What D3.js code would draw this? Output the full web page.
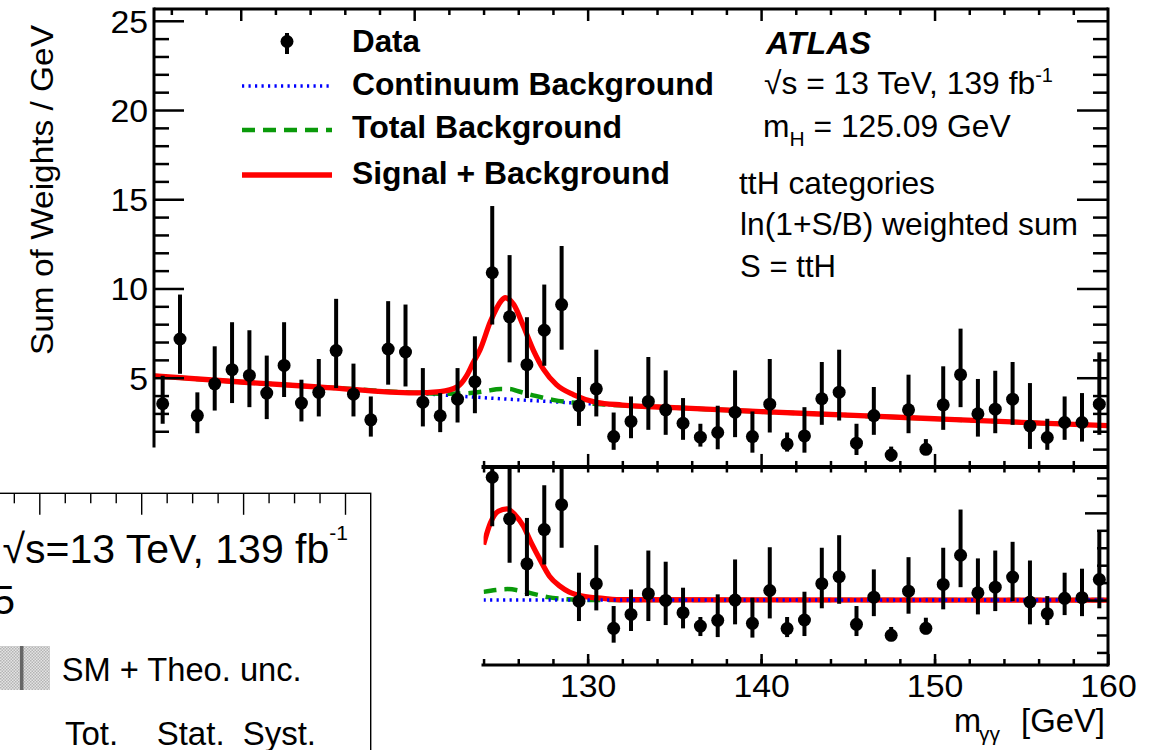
<!DOCTYPE html>
<html><head><meta charset="utf-8">
<script src="https://cdnjs.cloudflare.com/ajax/libs/d3/7.8.5/d3.min.js"></script>
<style>
html,body{margin:0;padding:0;background:#fff;}
svg{display:block;}
text{font-family:"Liberation Sans",Arial,Helvetica,sans-serif;fill:#000;}
</style></head>
<body>
<svg id="chart" width="1165" height="750"></svg>
<script>
// ---------------- data ----------------
const massBins = [105.5,106.5,107.5,108.5,109.5,110.5,111.5,112.5,113.5,114.5,115.5,116.5,117.5,118.5,119.5,120.5,121.5,122.5,123.5,124.5,125.5,126.5,127.5,128.5,129.5,130.5,131.5,132.5,133.5,134.5,135.5,136.5,137.5,138.5,139.5,140.5,141.5,142.5,143.5,144.5,145.5,146.5,147.5,148.5,149.5,150.5,151.5,152.5,153.5,154.5,155.5,156.5,157.5,158.5,159.5];
const sumWeights = [3.54,7.17,2.88,4.66,5.45,5.13,4.14,5.69,3.58,4.18,6.52,4.08,2.64,6.61,6.44,3.63,2.87,3.80,4.78,10.88,8.41,5.73,7.66,9.10,3.43,4.38,1.70,2.55,3.67,3.20,2.45,1.67,1.93,3.07,1.70,3.52,1.29,1.74,3.82,4.19,1.33,2.88,0.67,3.20,0.99,3.48,5.17,2.98,3.24,3.80,2.30,1.65,2.49,2.49,3.52];
const errLow  = [2.42,5.22,1.89,3.16,3.58,3.35,2.68,3.92,2.55,2.83,4.42,2.83,1.70,4.61,4.51,2.27,1.95,2.49,3.01,7.98,5.86,3.86,5.67,6.57,2.30,2.83,0.96,1.61,2.08,1.80,1.52,1.14,0.99,1.67,0.80,1.93,0.86,0.80,2.36,2.60,0.67,1.80,0.30,1.89,0.67,2.08,3.35,1.70,1.89,2.36,1.01,0.96,1.52,1.42,1.80];
const errHigh = [5.11,9.66,4.18,6.76,8.11,7.66,6.24,8.11,4.89,6.05,9.42,5.79,3.95,9.29,9.10,5.54,4.14,5.54,7.32,14.62,11.87,8.39,10.22,12.38,5.04,6.57,3.05,3.95,6.16,5.41,3.86,2.42,3.43,5.41,3.11,6.05,1.93,3.35,5.88,6.57,2.42,4.48,1.14,5.17,1.56,5.64,7.75,4.93,5.39,5.88,4.70,2.70,3.95,4.14,6.42];

const ratioBins = [124.5,125.5,126.5,127.5,128.5,129.5,130.5,131.5,132.5,133.5,134.5,135.5,136.5,137.5,138.5,139.5,140.5,141.5,142.5,143.5,144.5,145.5,146.5,147.5,148.5,149.5,150.5,151.5,152.5,153.5,154.5,155.5,156.5,157.5,158.5,159.5];
const residual  = [7.04,4.66,2.08,4.04,5.47,-0.06,0.94,-1.62,-0.82,0.37,-0.02,-0.72,-1.49,-1.16,0.00,-1.33,0.55,-1.63,-1.14,0.94,1.34,-1.39,0.17,-2.02,0.51,-1.62,0.90,2.57,0.42,0.74,1.32,-0.11,-0.78,0.10,0.14,1.18];
const residLow  = [4.23,2.14,0.23,2.04,3.00,-1.20,-0.59,-2.44,-1.77,-1.20,-1.43,-1.62,-2.06,-2.12,-1.39,-2.15,-1.05,-2.12,-2.06,-0.47,-0.21,-2.06,-0.92,-2.35,-0.78,-1.96,-0.53,0.74,-0.82,-0.63,-0.06,-1.39,-1.43,-0.86,-0.92,-0.47];
const residHigh = [10.8,8.0,4.71,6.58,8.8,1.57,3.15,-0.34,0.61,2.84,2.20,0.71,-0.97,0.33,2.33,0.14,3.03,-0.97,0.48,3.00,3.72,-0.34,1.76,-1.54,2.46,-1.01,3.00,5.19,2.39,2.84,3.34,2.27,0.23,1.57,1.80,3.99];

const contMass = [105,110,115,120,125,130,135,140,145,150,155,160];
const contVal  = [5.10,4.76,4.45,4.14,3.82,3.55,3.32,3.10,2.90,2.70,2.50,2.31];
const totMass = [105,110,115,120,121,122,123,124,125,125.5,126,127,128,129,130,131,135,140,145,150,155,160];
const totVal  = [5.10,4.76,4.45,4.16,4.12,4.10,4.12,4.23,4.37,4.37,4.24,3.98,3.76,3.62,3.56,3.50,3.32,3.10,2.90,2.70,2.50,2.31];
const sbMass = [105,110,115,120,121.5,122.5,123.0,123.4,123.8,124.4,125.0,125.25,125.74,126.3,126.9,127.47,128.2,129.2,130.5,132,135,140,145,150,155,160];
const sbVal  = [5.10,4.76,4.45,4.15,4.22,4.50,5.07,5.84,6.57,8.16,9.29,9.48,9.10,7.88,6.48,5.45,4.61,4.04,3.62,3.47,3.32,3.10,2.90,2.70,2.50,2.31];

const resSbMass = [124.0,124.4,124.85,125.35,125.8,126.3,126.75,127.25,127.8,128.4,128.95,129.7,130.9,132,160];
const resSbVal  = [3.18,4.43,5.09,5.23,4.90,4.23,3.28,2.33,1.37,0.80,0.46,0.23,0.10,0.02,0];
const resTotMass = [124.0,124.7,125.4,126.2,127.0,127.7,128.7,130.0,131.0,160];
const resTotVal  = [0.47,0.58,0.63,0.52,0.33,0.17,0.06,0.01,0,0];
const resContMass = [124,160];
const resContVal  = [0,0];

const yMajor = [5,10,15,20,25];
const yMinor = [1,2,3,4,6,7,8,9,11,12,13,14,16,17,18,19,21,22,23,24];
const xMajor = [110,120,130,140,150];
const xMinor = [106,108,112,114,116,118,122,124,126,128,132,134,136,138,142,144,146,148,152,154,156,158];
const xLabels = [130,140,150,160];
const rMajor = [0,5];
const rMinor = [-3,-2,-1,1,2,3,4,6,7];
const boxTicksMajor = [0,1,2,3];
const boxTicksMinor = [-0.75,-0.5,-0.25,0.25,0.5,0.75,1.25,1.5,1.75,2.25,2.5,2.75];

const legendLabels = ["Data","Continuum Background","Total Background","Signal + Background"];

// ---------------- drawing ----------------
const svg = d3.select("#chart");
const x = d3.scaleLinear().domain([105,160]).range([154,1108]);
const yUp = d3.scaleLinear().domain([0,25.66]).range([466.95,9]);
const yLo = d3.scaleLinear().domain([-3.72,7.6]).range([665,467.5]);

const defs = svg.append("defs");
defs.append("clipPath").attr("id","clipUp").append("rect")
  .attr("x",x(105)).attr("y",yUp(25.66)).attr("width",x(160)-x(105)).attr("height",yUp(0)-yUp(25.66));
defs.append("clipPath").attr("id","clipLo").append("rect")
  .attr("x",x(124)).attr("y",yLo(7.6)).attr("width",x(160)-x(124)).attr("height",yLo(-3.72)-yLo(7.6));
const pat = defs.append("pattern").attr("id","hatch").attr("patternUnits","userSpaceOnUse").attr("width",3).attr("height",3);
pat.append("rect").attr("width",3).attr("height",3).attr("fill","#e4e4e4");
pat.append("rect").attr("x",0).attr("y",0).attr("width",1.5).attr("height",1.5).attr("fill","#b4b4b4");
pat.append("rect").attr("x",1.5).attr("y",1.5).attr("width",1.5).attr("height",1.5).attr("fill","#b4b4b4");

const BLUE="#0000ff", GREEN="#0a9a0a", RED="#ff0000";
const MR = 6.5, EBW = 4;

function styleAxis(g, w){
  g.select(".domain").remove();
  g.selectAll(".tick line").attr("stroke","#000").attr("stroke-width",w);
}

// ---- upper panel curves ----
const upLine = d3.line().x(d=>x(d[0])).y(d=>yUp(d[1])).curve(d3.curveMonotoneX);
const up = svg.append("g").attr("clip-path","url(#clipUp)");
up.append("path").attr("d",upLine(contMass.map((m,i)=>[m,contVal[i]])))
  .attr("fill","none").attr("stroke",BLUE).attr("stroke-width",3.5).attr("stroke-dasharray","2.2,4.3");
up.append("path").attr("d",upLine(totMass.map((m,i)=>[m,totVal[i]])))
  .attr("fill","none").attr("stroke",GREEN).attr("stroke-width",4.5).attr("stroke-dasharray","13,8");
up.append("path").attr("d",upLine(sbMass.map((m,i)=>[m,sbVal[i]])))
  .attr("fill","none").attr("stroke",RED).attr("stroke-width",5.3);
// data
up.selectAll("line.eb").data(massBins).join("line").attr("class","eb")
  .attr("x1",d=>x(d)).attr("x2",d=>x(d))
  .attr("y1",(d,i)=>yUp(errLow[i])).attr("y2",(d,i)=>yUp(errHigh[i]))
  .attr("stroke","#000").attr("stroke-width",EBW);
up.selectAll("circle.pt").data(massBins).join("circle").attr("class","pt")
  .attr("cx",d=>x(d)).attr("cy",(d,i)=>yUp(sumWeights[i])).attr("r",MR).attr("fill","#000");

// ---- lower panel ----
const loLine = d3.line().x(d=>x(d[0])).y(d=>yLo(d[1])).curve(d3.curveMonotoneX);
const lo = svg.append("g").attr("clip-path","url(#clipLo)");
lo.append("path").attr("d",loLine(resTotMass.map((m,i)=>[m,resTotVal[i]])))
  .attr("fill","none").attr("stroke",GREEN).attr("stroke-width",4.5).attr("stroke-dasharray","13,8");
lo.append("path").attr("d",loLine(resSbMass.map((m,i)=>[m,resSbVal[i]])))
  .attr("fill","none").attr("stroke",RED).attr("stroke-width",5.3);
lo.append("path").attr("d",loLine(resContMass.map((m,i)=>[m,resContVal[i]])))
  .attr("fill","none").attr("stroke",BLUE).attr("stroke-width",3.5).attr("stroke-dasharray","2.2,4.3");
lo.selectAll("line.eb").data(ratioBins).join("line").attr("class","eb")
  .attr("x1",d=>x(d)).attr("x2",d=>x(d))
  .attr("y1",(d,i)=>yLo(residLow[i])).attr("y2",(d,i)=>yLo(residHigh[i]))
  .attr("stroke","#000").attr("stroke-width",EBW);
lo.selectAll("circle.pt").data(ratioBins).join("circle").attr("class","pt")
  .attr("cx",d=>x(d)).attr("cy",(d,i)=>yLo(residual[i])).attr("r",MR).attr("fill","#000");

// ---- axes ----
const TF = 32;
let g = svg.append("g").attr("transform",`translate(${x(105)},0)`)
  .call(d3.axisLeft(yUp).tickValues(yMajor).tickSize(-30).tickPadding(6).tickFormat(d3.format("d")));
styleAxis(g,2.5);
g.selectAll("text").attr("font-size",TF).attr("dy",11.5)
  .attr("textLength",d=>String(d).length*18.8).attr("lengthAdjust","spacingAndGlyphs");
g = svg.append("g").attr("transform",`translate(${x(105)},0)`)
  .call(d3.axisLeft(yUp).tickValues(yMinor).tickSize(-15).tickFormat(""));
styleAxis(g,2.5);
g = svg.append("g").attr("transform",`translate(${x(160)},0)`)
  .call(d3.axisRight(yUp).tickValues(yMajor).tickSize(-31).tickFormat(""));
styleAxis(g,2.5);
g = svg.append("g").attr("transform",`translate(${x(160)},0)`)
  .call(d3.axisRight(yUp).tickValues(yMinor).tickSize(-15).tickFormat(""));
styleAxis(g,2.5);
g = svg.append("g").attr("transform",`translate(0,${yUp(25.66)})`)
  .call(d3.axisTop(x).tickValues(xMajor).tickSize(-12).tickFormat(""));
styleAxis(g,2.5);
g = svg.append("g").attr("transform",`translate(0,${yUp(25.66)})`)
  .call(d3.axisTop(x).tickValues(xMinor).tickSize(-6).tickFormat(""));
styleAxis(g,2.5);
g = svg.append("g").attr("transform",`translate(0,${yUp(0)})`)
  .call(d3.axisBottom(x).tickValues(xMajor).tickSize(-13).tickFormat(""));
styleAxis(g,2.5);
g = svg.append("g").attr("transform",`translate(0,${yUp(0)})`)
  .call(d3.axisBottom(x).tickValues(xMinor).tickSize(-6).tickFormat(""));
styleAxis(g,2.5);
g = svg.append("g").attr("transform",`translate(0,${yLo(7.6)})`)
  .call(d3.axisTop(x).tickValues(xMajor.concat(xMinor)).tickSize(-5).tickFormat(""));
styleAxis(g,2.5);
g = svg.append("g").attr("transform",`translate(0,${yLo(-3.72)})`)
  .call(d3.axisBottom(x).tickValues(xLabels).tickSize(-11).tickFormat(d3.format("d")));
styleAxis(g,2.5);
g.selectAll("text").attr("font-size",TF).attr("y",32).attr("dy",0)
  .attr("textLength",d=>String(d).length*18.8).attr("lengthAdjust","spacingAndGlyphs");
g = svg.append("g").attr("transform",`translate(0,${yLo(-3.72)})`)
  .call(d3.axisBottom(x).tickValues(xMajor.concat(xMinor)).tickSize(-6).tickFormat(""));
styleAxis(g,2.5);
g = svg.append("g").attr("transform",`translate(${x(160)},0)`)
  .call(d3.axisRight(yLo).tickValues(rMajor).tickSize(-23).tickFormat(""));
styleAxis(g,2.5);
g = svg.append("g").attr("transform",`translate(${x(160)},0)`)
  .call(d3.axisRight(yLo).tickValues(rMinor).tickSize(-11).tickFormat(""));
styleAxis(g,2.5);

// frame lines
const frame = svg.append("g").attr("stroke","#000").attr("fill","none");
frame.append("line").attr("x1",x(105)).attr("x2",x(160)).attr("y1",yUp(25.66)).attr("y2",yUp(25.66)).attr("stroke-width",3);
frame.append("line").attr("x1",x(105)).attr("x2",x(105)).attr("y1",yUp(25.66)-1.5).attr("y2",yUp(0)).attr("stroke-width",3);
frame.append("line").attr("x1",x(160)).attr("x2",x(160)).attr("y1",yUp(25.66)-1.5).attr("y2",yLo(-3.72)+1.5).attr("stroke-width",3);
frame.append("line").attr("x1",x(105)).attr("x2",x(160)).attr("y1",yUp(0)).attr("y2",yUp(0)).attr("stroke-width",4);
frame.append("line").attr("x1",x(105)).attr("x2",x(160)).attr("y1",yLo(-3.72)).attr("y2",yLo(-3.72)).attr("stroke-width",3);

// axis titles
svg.append("text").attr("transform","translate(52.5,190) rotate(-90)")
  .attr("text-anchor","middle").attr("font-size",31.5)
  .attr("textLength",330).attr("lengthAdjust","spacingAndGlyphs")
  .text("Sum of Weights / GeV");
const xt = svg.append("text").attr("y",731.7).attr("font-size",32.5);
xt.append("tspan").attr("x",954).text("m");
xt.append("tspan").attr("x",979).attr("font-size",21).attr("dy",9).text("γγ");
xt.append("tspan").attr("x",1021).attr("dy",-9).attr("textLength",84).attr("lengthAdjust","spacingAndGlyphs").text("[GeV]");

// legend
const lg = svg.append("g");
lg.append("line").attr("x1",287).attr("x2",287).attr("y1",33).attr("y2",54).attr("stroke","#000").attr("stroke-width",EBW);
lg.append("circle").attr("cx",287).attr("cy",41.5).attr("r",MR).attr("fill","#000");
lg.append("line").attr("x1",242).attr("x2",332).attr("y1",86).attr("y2",86).attr("stroke",BLUE).attr("stroke-width",3.5).attr("stroke-dasharray","2.2,4.3");
lg.append("line").attr("x1",242).attr("x2",332).attr("y1",130).attr("y2",130).attr("stroke",GREEN).attr("stroke-width",4.5).attr("stroke-dasharray","13,8");
lg.append("line").attr("x1",242).attr("x2",332).attr("y1",175).attr("y2",175).attr("stroke",RED).attr("stroke-width",5.3);
const lgBase = [52,95,138,184.3];
const lgW = [68,362,270,318];
legendLabels.forEach((t,i)=>{
  lg.append("text").attr("x",352).attr("y",lgBase[i]).attr("font-size",31.8).attr("font-weight","bold")
    .attr("textLength",lgW[i]).attr("lengthAdjust","spacingAndGlyphs").text(t);
});

// ATLAS labels
svg.append("text").attr("x",766).attr("y",54).attr("font-size",30.5).attr("font-weight","bold").attr("font-style","italic")
  .attr("textLength",105).attr("lengthAdjust","spacingAndGlyphs").text("ATLAS");
let t = svg.append("text").attr("x",764).attr("y",94.3).attr("font-size",31.8);
t.append("tspan").text("√s = 13 TeV, 139 fb");
t.append("tspan").attr("font-size",20).attr("dy",-12.6).text("-1");
t = svg.append("text").attr("x",763).attr("y",136.7).attr("font-size",31.8);
t.append("tspan").text("m");
t.append("tspan").attr("font-size",21).attr("dy",9.3).text("H");
t.append("tspan").attr("dy",-9.3).text(" = 125.09 GeV");
svg.append("text").attr("x",739).attr("y",194.3).attr("font-size",31.8)
  .attr("textLength",196).attr("lengthAdjust","spacingAndGlyphs").text("ttH categories");
svg.append("text").attr("x",740).attr("y",235).attr("font-size",31.8)
  .attr("textLength",338).attr("lengthAdjust","spacingAndGlyphs").text("ln(1+S/B) weighted sum");
svg.append("text").attr("x",740).attr("y",276.7).attr("font-size",31.8)
  .attr("textLength",96).attr("lengthAdjust","spacingAndGlyphs").text("S = ttH");

// ---- overlapping region at the bottom left ----
svg.append("rect").attr("x",0).attr("y",447.5).attr("width",481.5).attr("height",302.5).attr("fill","#fff");
const bx = d3.scaleLinear().domain([0,3]).range([39.3,345]);
svg.append("rect").attr("x",-10).attr("y",493.3).attr("width",380.7).attr("height",300)
  .attr("fill","#fff").attr("stroke","#000").attr("stroke-width",1.4);
g = svg.append("g").attr("transform","translate(0,493.3)")
  .call(d3.axisTop(bx).tickValues(boxTicksMajor).tickSize(-21.5).tickFormat(""));
styleAxis(g,1.4);
g = svg.append("g").attr("transform","translate(0,493.3)")
  .call(d3.axisTop(bx).tickValues(boxTicksMinor).tickSize(-10).tickFormat(""));
styleAxis(g,1.4);
t = svg.append("text").attr("x",348).attr("y",563.3).attr("font-size",41).attr("text-anchor","end");
t.append("tspan").text("√s=13 TeV, 139 fb");
t.append("tspan").attr("font-size",21).attr("dy",-23).text("-1");
svg.append("text").attr("x",15).attr("y",614).attr("font-size",40).attr("text-anchor","end").text("5");
svg.append("rect").attr("x",0).attr("y",646).attr("width",50).attr("height",44).attr("fill","url(#hatch)");
svg.append("line").attr("x1",21.7).attr("x2",21.7).attr("y1",646).attr("y2",690).attr("stroke","#666").attr("stroke-width",3.5);
svg.append("text").attr("x",61.7).attr("y",680.7).attr("font-size",33)
  .attr("textLength",240).attr("lengthAdjust","spacingAndGlyphs").text("SM + Theo. unc.");
[["Tot.",65],["Stat.",156.7],["Syst.",242.7]].forEach(([s,px])=>{
  svg.append("text").attr("x",px).attr("y",745).attr("font-size",33).text(s);
});
</script>
</body></html>
